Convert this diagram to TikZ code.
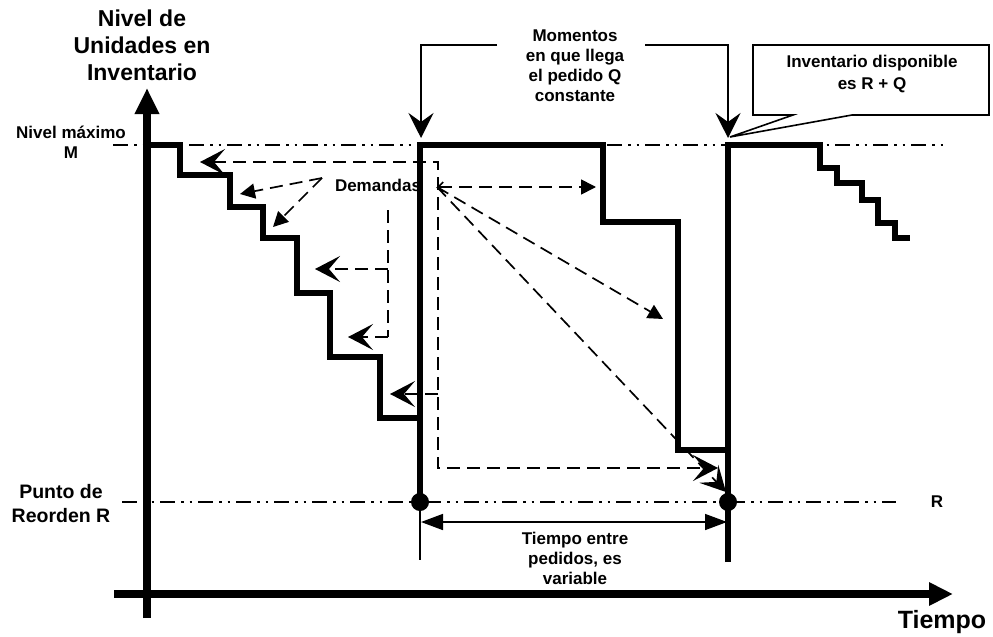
\documentclass[tikz,border=0pt]{standalone}
\usepackage{fontspec}
\setmainfont{Liberation Sans}
\usetikzlibrary{arrows.meta}
\begin{document}
\begin{tikzpicture}[x=1pt,y=-1pt,
  axis/.style={line width=7.5pt},
  stair/.style={line width=5.5pt, line join=miter},
  refline/.style={line width=1.8pt, dash pattern=on 15pt off 6pt on 2.5pt off 6pt on 2.5pt off 6pt},
  dem/.style={line width=1.7pt, dash pattern=on 13pt off 7pt},
  thinln/.style={line width=1.6pt},
  lbl/.style={font=\bfseries\fontsize{17}{20}\selectfont, align=center, inner sep=0pt},
  big/.style={font=\bfseries\fontsize{23}{27}\selectfont, align=center, inner sep=0pt},
  mid/.style={font=\bfseries\fontsize{19.5}{24}\selectfont, align=center, inner sep=0pt},
  stl/.style={-{Stealth[length=25pt,width=26pt,inset=11pt]}},
  tri/.style={-{Triangle[length=15pt,width=15pt]}},
  dot/.style={circle, fill=black, minimum size=18pt, inner sep=0pt},
]
\useasboundingbox (0,0) rectangle (993,637);

% reference lines
\coordinate (M0) at (113,145); \coordinate (M1) at (945,145);
\coordinate (R0) at (122,502); \coordinate (R1) at (896,502);
\draw[refline] (M0) -- (M1);
\draw[refline] (R0) -- (R1);

% demand arrows
\node[lbl] (dem) at (378,185) {Demandas};
\coordinate (Dl) at (322,178);
\coordinate (Dr) at (437,187);
\coordinate (t1) at (240,194);
\coordinate (t2) at (273,227);
\coordinate (t3) at (596,187);
\coordinate (t4) at (663,319);
\coordinate (t5) at (726,492);
\draw[dem, tri] (Dl) -- (t1);
\draw[dem, tri] (Dl) -- (t2);
\draw[dem, {Straight Barb[length=5pt,width=10pt]}-{Triangle[length=15pt,width=15pt]}] (Dr) -- (t3);
\draw[dem, tri] (Dr) -- (t4);
\draw[dem, stl] (Dr) -- (t5);

\coordinate (p1) at (200,162); \coordinate (p2) at (438,162);
\coordinate (p3) at (438,468); \coordinate (p4) at (718,468);
\draw[dem, {Stealth[length=25pt,width=26pt,inset=11pt]}-{Stealth[length=25pt,width=26pt,inset=11pt]}] (p1) -- (p2) -- (p3) -- (p4);
\coordinate (q1) at (438,394); \coordinate (q2) at (390,394);
\draw[dem, stl] (q1) -- (q2);
\coordinate (v1) at (388,210); \coordinate (v2) at (388,337);
\coordinate (v3) at (388,269); \coordinate (w1) at (315,269); \coordinate (w2) at (348,337);
\draw[dem] (v1) -- (v2);
\draw[dem, stl] (v3) -- (w1);
\draw[dem, stl] (v2) -- (w2);

% axes
\coordinate (O1) at (147,618); \coordinate (Ytop) at (147,88);
\coordinate (X0) at (114,594); \coordinate (Xend) at (953,594);
\draw[axis, -{Triangle[length=26pt,width=23pt]}] (O1) -- (Ytop);
\draw[axis, -{Triangle[length=24pt,width=22pt]}] (X0) -- (Xend);

% inventory level
\draw[stair] (147,145) -- (180,145) -- (180,175) -- (230,175) -- (230,207) -- (263,207) -- (263,238) -- (297,238) -- (297,293) -- (330,293) -- (330,357) -- (380,357) -- (380,418) -- (420,418);
\draw[stair] (420,502) -- (420,145) -- (603,145) -- (603,222) -- (678,222) -- (678,450) -- (728,450);
\draw[stair] (728,562) -- (728,145) -- (820,145) -- (820,168) -- (837,168) -- (837,183) -- (862,183) -- (862,200) -- (878,200) -- (878,223) -- (895,223) -- (895,238) -- (910,238);

% reorder points and dimension
\node[dot] (d1) at (420,502) {};
\node[dot] (d2) at (728,502) {};
\coordinate (e1) at (420,560);
\draw[thinln] (d1.center) -- (e1);
\coordinate (h1) at (421,522); \coordinate (h2) at (727,522);
\draw[thinln, {Triangle[length=22pt,width=16pt]}-{Triangle[length=22pt,width=16pt]}] (h1) -- (h2);
\node[lbl] (tiempoentre) at (575,558) {Tiempo entre\\pedidos, es\\variable};

% callout: momentos
\coordinate (m1) at (497,45); \coordinate (m2) at (421,45); \coordinate (m3) at (421,138);
\coordinate (n1) at (645,45); \coordinate (n2) at (728,45); \coordinate (n3) at (728,138);
\draw[thinln, -{Stealth[length=25pt,width=25pt,inset=9pt]}] (m1) -- (m2) -- (m3);
\draw[thinln, -{Stealth[length=25pt,width=25pt,inset=9pt]}] (n1) -- (n2) -- (n3);
\node[lbl] (momentos) at (575,66) {Momentos\\en que llega\\el pedido Q\\constante};

% callout box
\draw[thinln, fill=white] (753,45) -- (989,45) -- (989,115) -- (852,115) -- (730,137) -- (793,115) -- (753,115) -- cycle;
\node[lbl, font=\bfseries\fontsize{17}{22}\selectfont] (invdisp) at (872,74) {Inventario disponible\\es R + Q};

% labels
\node[big] (title) at (142,45) {Nivel de\\Unidades en\\Inventario};
\node[lbl] (nmax) at (71,142) {Nivel máximo\\M};
\node[mid] (punto) at (61,504) {Punto de\\Reorden R};
\node[lbl] (rlab) at (937,502) {R};
\node[big, font=\bfseries\fontsize{25}{28}\selectfont] (tiempo) at (942,622) {Tiempo};
\end{tikzpicture}
\end{document}
